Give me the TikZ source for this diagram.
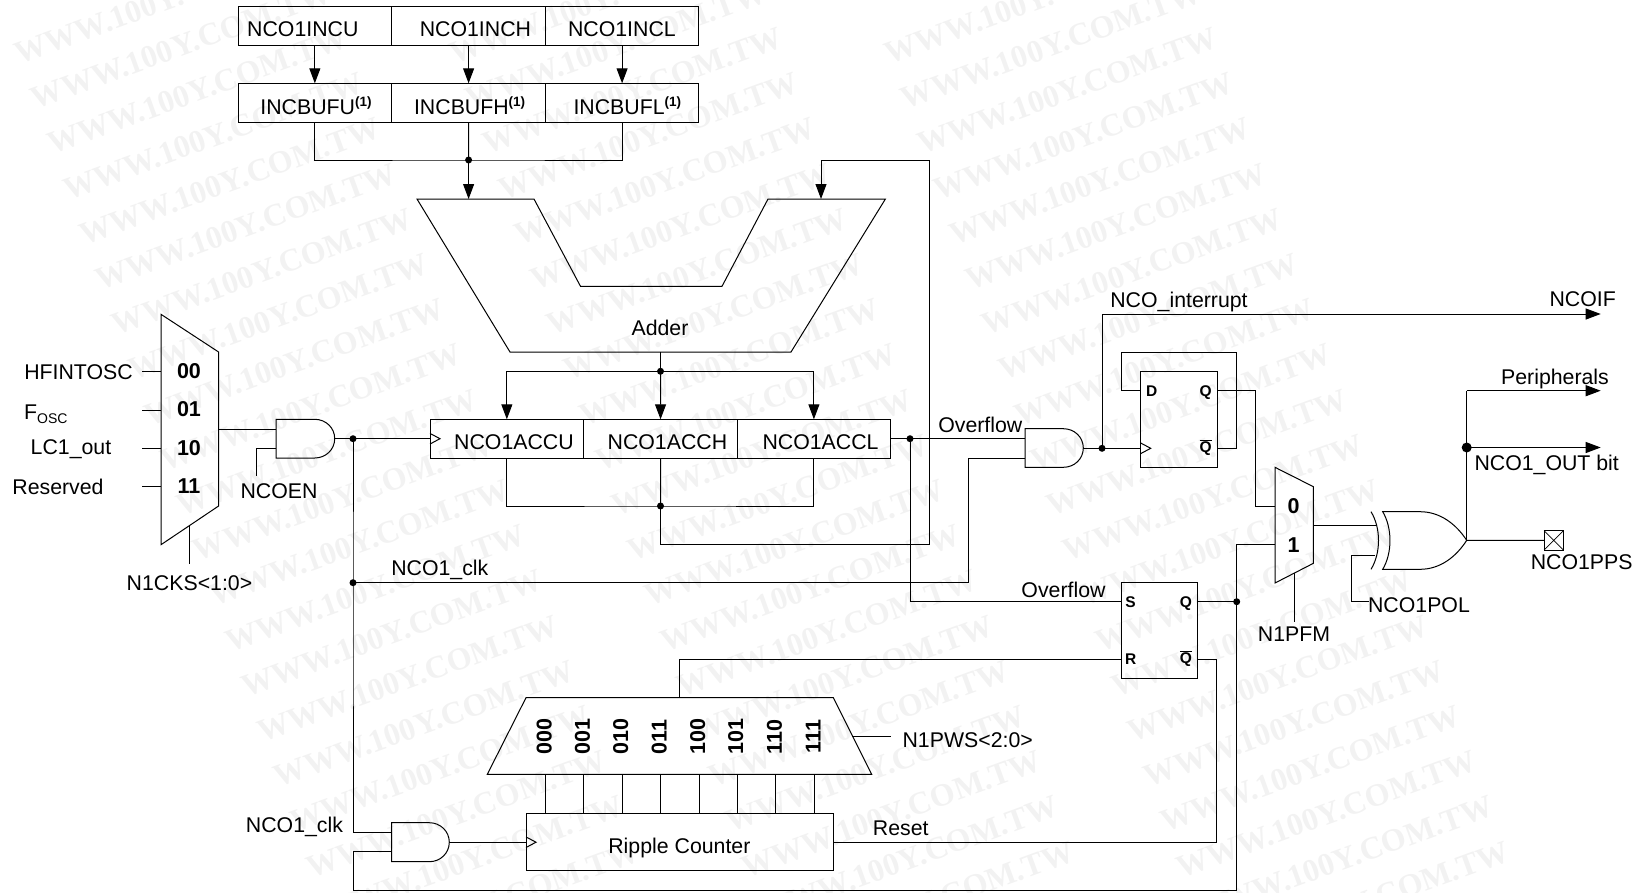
\documentclass[tikz,border=0pt]{standalone}
\usepackage{fontspec}
\setmainfont{Liberation Sans}
\newfontfamily\wmfont{Liberation Serif}
\usetikzlibrary{arrows.meta,calc}
\definecolor{wmgray}{HTML}{F2F2F2}
\tikzset{
  wire/.style={line width=1pt,line join=miter},
  arr/.style={wire,-{Triangle[length=15pt,width=11pt]}},
  box/.style={draw,line width=1pt,inner sep=0pt,outer sep=0pt},
  ghost/.style={inner sep=0pt,outer sep=0pt},
  lbl/.style={inner sep=0pt,font=\fontsize{21.3}{24}\selectfont,text height=15pt,text depth=0pt},
  blbl/.style={inner sep=0pt,font=\fontsize{21.5}{24}\selectfont\bfseries,text height=15pt,text depth=0pt},
  rlbl/.style={inner sep=0pt,font=\fontsize{21.5}{24}\selectfont\bfseries,text height=15pt,text depth=0pt,rotate=90},
  slbl/.style={inner sep=0pt,font=\fontsize{15.5}{18}\selectfont\bfseries,text height=11pt,text depth=0pt},
  dotn/.style={circle,fill=black,inner sep=0pt,minimum size=7pt},
  bigdot/.style={circle,fill=black,inner sep=0pt,minimum size=10pt},
  wmk/.style={inner sep=0pt,text=wmgray,font=\fontsize{32}{36}\selectfont\wmfont\bfseries,rotate=20},
}
\newcommand{\cell}[5]{\node[box,minimum width={(#4-#2)*1pt},minimum height={(#5-#3)*1pt}] (#1) at ({(#2+#4)/2},{(#3+#5)/2}) {};}
\newcommand{\junct}[3]{\coordinate (#1) at (#2,#3); \node[dotn] (#1dot) at (#1) {};}
\newcommand{\andgate}[5]{%
  \node[ghost,minimum width={(#4-#2)*1pt},minimum height={(#5-#3)*1pt}] (#1) at ({(#2+#4)/2},{(#3+#5)/2}) {};
  \draw[wire] (#2,#3) -- ({#4-20},#3) .. controls ({#4-9},#3) and (#4,{(#3+#5)/2-11}) .. (#4,{(#3+#5)/2})
     .. controls (#4,{(#3+#5)/2+11}) and ({#4-9},#5) .. ({#4-20},#5) -- (#2,#5) -- cycle;}
\newcommand{\clocktri}[2]{\draw[wire] (#1,{#2-5.3}) -- ({#1+10},#2) -- (#1,{#2+5.3});}
\newcommand{\SUP}{\textsuperscript{\fontsize{13.5}{13}\selectfont\bfseries (1)}}
\begin{document}
\begin{tikzpicture}[x=1pt,y=-1pt]
\useasboundingbox (0,0) rectangle (1644,892);
% watermark
\begin{scope}
\clip (0,0) rectangle (1644,892);
\foreach \c in {350,785,1220}{
  \foreach \r in {-2,...,18}{
    \node[wmk,anchor=base east] (w\c r\r) at ({\c+16.2*\r},{46.4+45.2*\r}) {WWW.100Y.COM.TW};
  }
}
\end{scope}

% registers
\cell{incu}{238}{6.7}{391.7}{45.3}
\cell{inch}{391.7}{6.7}{545.5}{45.3}
\cell{incl}{545.5}{6.7}{698.7}{45.3}
\cell{bufu}{238}{83.3}{391.7}{122.3}
\cell{bufh}{391.7}{83.3}{545.5}{122.3}
\cell{bufl}{545.5}{83.3}{698.7}{122.3}
\node[lbl] (tincu) at (302.8,29.3) {NCO1INCU};
\node[lbl] (tinch) at (475.4,29.3) {NCO1INCH};
\node[lbl] (tincl) at (621.9,29.3) {NCO1INCL};
\node[lbl] (tbufu) at (316.2,106.7) {INCBUFU\SUP};
\node[lbl] (tbufh) at (469.9,106.7) {INCBUFH\SUP};
\node[lbl] (tbufl) at (627.6,106.7) {INCBUFL\SUP};
\draw[arr] (incu.south) -- (bufu.north);
\draw[arr] (inch.south) -- (bufh.north);
\draw[arr] (incl.south) -- (bufl.north);
\junct{jm}{468.6}{160}
\draw[wire] (bufu.south) |- (jm) -| (bufl.south);
\draw[wire] (bufh.south) -- (jm);

% adder
\coordinate (addA) at (468.6,199);
\coordinate (addB) at (821,199);
\coordinate (addO) at (660.5,352);
\draw[wire] (417,199) -- (534,199) -- (580.5,286.3) -- (722,286.3) -- (768,199) -- (885.4,199) -- (791,352) -- (510,352) -- cycle;
\node[lbl] (tadder) at (660,328) {Adder};
\draw[arr] (jm) -- (addA);

% accumulator
\cell{accu}{430}{419.3}{583.7}{458}
\cell{acch}{583.7}{419.3}{737.4}{458}
\cell{accl}{737.4}{419.3}{890.4}{458}
\node[lbl] (taccu) at (514,442) {NCO1ACCU};
\node[lbl] (tacch) at (667.4,442) {NCO1ACCH};
\node[lbl] (taccl) at (820.5,442) {NCO1ACCL};
\clocktri{430}{438.7}
\junct{jbus}{660.5}{371.3}
\draw[wire] (addO) -- (jbus);
\draw[arr] (jbus) -- (acch.north);
\draw[arr] (jbus) -| (accu.north);
\draw[arr] (jbus) -| (accl.north);
\junct{jlow}{660.5}{506}
\draw[wire] (accu.south) |- (jlow) -| (accl.south);
\draw[wire] (acch.south) -- (jlow);
\coordinate (fb1) at (660.5,544.7);
\coordinate (fb2) at (929.3,544.7);
\coordinate (fb3) at (929.3,160.3);
\coordinate (fb4) at (821,160.3);
\draw[wire] (jlow) -- (fb1) -- (fb2) -- (fb3) -- (fb4);
\draw[arr] (fb4) -- (addB);

% input mux
\draw[wire] (161,314.3) -- (218.6,352) -- (218.6,506) -- (161,544.7) -- cycle;
\node[blbl] (m00) at (189,371) {00};
\node[blbl] (m01) at (189,409) {01};
\node[blbl] (m10) at (189,447.5) {10};
\node[blbl] (m11) at (189,486) {11};
\foreach \n/\y in {a/371,b/410,c/448,d/486.7}{
  \coordinate (st\n) at (142,\y);
  \coordinate (en\n) at (161,\y);
  \draw[wire] (st\n) -- (en\n);
}
\node[lbl] (thf) at (78.5,372) {HFINTOSC};
\node[lbl] (tfosc) at (45.8,412) {F\raisebox{-3.5pt}{\fontsize{14}{14}\selectfont OSC}};
\node[lbl] (tlc) at (71,447) {LC1\_out};
\node[lbl] (tres) at (58,487) {Reserved};
\coordinate (s1a) at (189.5,525.5);
\coordinate (s1b) at (189.5,563.7);
\draw[wire] (s1a) -- (s1b);
\node[lbl] (tcks) at (189.5,583) {N1CKS<1:0>};

% and gate 1
\andgate{and1}{276}{419.3}{334.7}{458}
\coordinate (mo) at (218.6,429);
\coordinate (a1a) at (276,429);
\coordinate (a1b) at (276,448.7);
\coordinate (en1) at (256.3,476);
\draw[wire] (mo) -- (a1a);
\draw[wire] (a1b) -| (en1);
\node[lbl] (tnen) at (279,490.7) {NCOEN};
\coordinate (a1o) at (334.7,438.7);
\coordinate (accin) at (430,438.7);
\draw[wire] (a1o) -- (accin);
\junct{jclk}{353}{438.7}
\junct{jclk2}{353}{582.7}
\coordinate (a3a) at (391.7,832.7);
\coordinate (a3b) at (391.7,851.7);
\draw[wire] (jclk) -- (jclk2) |- (a3a);
\node[lbl] (tclk1) at (439.8,568.3) {NCO1\_clk};
\node[lbl] (tclk2) at (294.5,825) {NCO1\_clk};

% and gate 2
\andgate{and2}{1025}{428.7}{1083.3}{467.3}
\coordinate (a2a) at (1025,438.7);
\coordinate (a2b) at (1025,458);
\coordinate (a2o) at (1083.3,448.3);
\coordinate (c2) at (968.7,582.7);
\draw[wire] (jclk2) -- (c2) |- (a2b);
\coordinate (accout) at (890.4,438.7);
\draw[wire] (accout) -- (a2a);
\junct{jov}{910}{438.7}
\node[lbl] (tov1) at (980.3,425) {Overflow};

% D flip-flop
\cell{dff}{1140.7}{371.3}{1217.3}{467.3}
\clocktri{1140.7}{448.3}
\node[slbl] (td) at (1151.7,390.7) {D};
\node[slbl] (tq) at (1205.7,391) {Q};
\node[slbl] (tqb) at (1205.7,447) {$\overline{\hbox{Q}}$};
\coordinate (dffclk) at (1140.7,448.3);
\draw[wire] (a2o) -- (dffclk);
\junct{jint}{1102}{448.3}
\coordinate (fint) at (1102,314);
\coordinate (nif) at (1600.7,314);
\draw[wire] (jint) -- (fint);
\draw[arr] (fint) -- (nif);
\node[lbl] (tint) at (1179,300) {NCO\_interrupt};
\node[lbl] (tnif) at (1582.7,298.5) {NCOIF};
\coordinate (dq) at (1217.3,390.7);
\coordinate (dqb) at (1217.3,448.3);
\coordinate (dd) at (1140.7,390.7);
\coordinate (f1) at (1236.3,448.3);
\coordinate (f2) at (1236.3,352.3);
\coordinate (f3) at (1121.3,352.3);
\coordinate (f4) at (1121.3,390.7);
\draw[wire] (dqb) -- (f1) -- (f2) -- (f3) -- (f4) -- (dd);
\coordinate (q1) at (1255.7,390.7);
\coordinate (q2) at (1255.7,506);
\coordinate (mx0) at (1275,506);
\draw[wire] (dq) -- (q1) -- (q2) -- (mx0);

% mux 2
\draw[wire] (1275,467.3) -- (1313.4,486.7) -- (1313.4,563.3) -- (1275,583) -- cycle;
\node[blbl] (m0) at (1293.5,505.5) {0};
\node[blbl] (m1) at (1293.5,544.7) {1};
\coordinate (mxo) at (1313.4,525);
\coordinate (xa) at (1376,525);
\draw[wire] (mxo) -- (xa);
\coordinate (s2a) at (1294.5,573);
\coordinate (s2b) at (1294.5,622);
\draw[wire] (s2a) -- (s2b);
\node[lbl] (tpfm) at (1294,634) {N1PFM};

% xor
\draw[wire] (1382.7,511.7) -- (1420,511.7) .. controls (1440,511.7) and (1456,524) .. (1466.7,540.3)
  .. controls (1456,557) and (1440,569.3) .. (1420,569.3) -- (1382.7,569.3)
  .. controls (1392.4,553) and (1392.4,528) .. (1382.7,511.7) -- cycle;
\draw[wire] (1371,511.7) .. controls (1381,528) and (1381,553) .. (1371,569.3);
\coordinate (xb) at (1375,555.7);
\coordinate (xb1) at (1351.7,555.7);
\coordinate (xb2) at (1351.7,601.7);
\coordinate (xb3) at (1369.3,601.7);
\draw[wire] (xb) -- (xb1) -- (xb2) -- (xb3);
\node[lbl] (tpol) at (1419,605.2) {NCO1POL};

% output
\cell{pps}{1544}{530.7}{1563.3}{550}
\draw[line width=.7pt] (pps.north west) -- (pps.south east) (pps.north east) -- (pps.south west);
\coordinate (xo) at (1466.7,540.3);
\draw[wire] (xo) -- (pps.west);
\node[lbl] (tpps) at (1581.7,562.3) {NCO1PPS};
\coordinate (jb) at (1466.7,447.5);
\node[bigdot] (jbdot) at (jb) {};
\coordinate (pe1) at (1466.7,390.7);
\coordinate (pe2) at (1600.7,390.7);
\coordinate (bit) at (1600.7,447.5);
\draw[wire] (xo) -- (pe1);
\draw[arr] (pe1) -- (pe2);
\draw[arr] (jb) -- (bit);
\node[lbl] (tper) at (1555,376.7) {Peripherals};
\node[lbl] (tbit) at (1546.7,463) {NCO1\_OUT bit};

% SR flip-flop
\cell{sr}{1121.6}{582.7}{1197.3}{678.3}
\node[slbl] (ts) at (1130.6,601.7) {S};
\node[slbl] (tr) at (1130.6,659.3) {R};
\node[slbl] (tsq) at (1186,602) {Q};
\node[slbl] (tsqb) at (1186,658) {$\overline{\hbox{Q}}$};
\coordinate (srs) at (1121.6,601.7);
\coordinate (ov1) at (910,601.7);
\draw[wire] (jov) -- (ov1) -- (srs);
\node[lbl] (tov2) at (1063.5,590) {Overflow};
\coordinate (srq) at (1197.3,601.7);
\junct{jsr}{1236.7}{601.7}
\draw[wire] (srq) -- (jsr);
\coordinate (mx1) at (1275,544.7);
\coordinate (l1) at (1236.7,544.7);
\coordinate (l2) at (1236.7,890);
\coordinate (l3) at (353,890);
\coordinate (l4) at (353,851.7);
\draw[wire] (mx1) -- (l1) -- (l2) -- (l3) -- (l4) -- (a3b);
\coordinate (srr) at (1121.6,659.3);
\coordinate (srr1) at (679.4,659.3);
\coordinate (srr2) at (679.4,697.7);
\draw[wire] (srr) -- (srr1) -- (srr2);

% pulse-width mux
\draw[wire] (526,697.7) -- (833.3,697.7) -- (871.7,774.3) -- (487.3,774.3) -- cycle;
\foreach \x/\t in {545.3/000,583.7/001,622/010,660.5/011,699/100,737/101,775.7/110,814.3/111}{
  \node[rlbl] (p\t) at ({\x-1.3},736.7) {\t};
  \coordinate (pa\t) at (\x,774.3);
  \coordinate (pb\t) at (\x,813.3);
  \draw[wire] (pa\t) -- (pb\t);
}
\coordinate (pw1) at (852.3,736);
\coordinate (pw2) at (891,736);
\draw[wire] (pw1) -- (pw2);
\node[lbl] (tpws) at (967.7,739.5) {N1PWS<2:0>};

% ripple counter
\cell{rip}{526}{813.3}{833.5}{870.9}
\node[lbl] (trip) at (679.4,846) {Ripple Counter};
\clocktri{526}{842.2}
\andgate{and3}{391.7}{822.7}{449.3}{861.7}
\coordinate (a3o) at (449.3,842.2);
\coordinate (ripclk) at (526,842.2);
\draw[wire] (a3o) -- (ripclk);
\coordinate (rr) at (833.5,842);
\coordinate (qb1) at (1197.3,659.3);
\coordinate (qb2) at (1216.7,659.3);
\coordinate (qb3) at (1216.7,842);
\draw[wire] (qb1) -- (qb2) -- (qb3) -- (rr);
\node[lbl] (treset) at (900.7,828) {Reset};
\end{tikzpicture}
\end{document}
